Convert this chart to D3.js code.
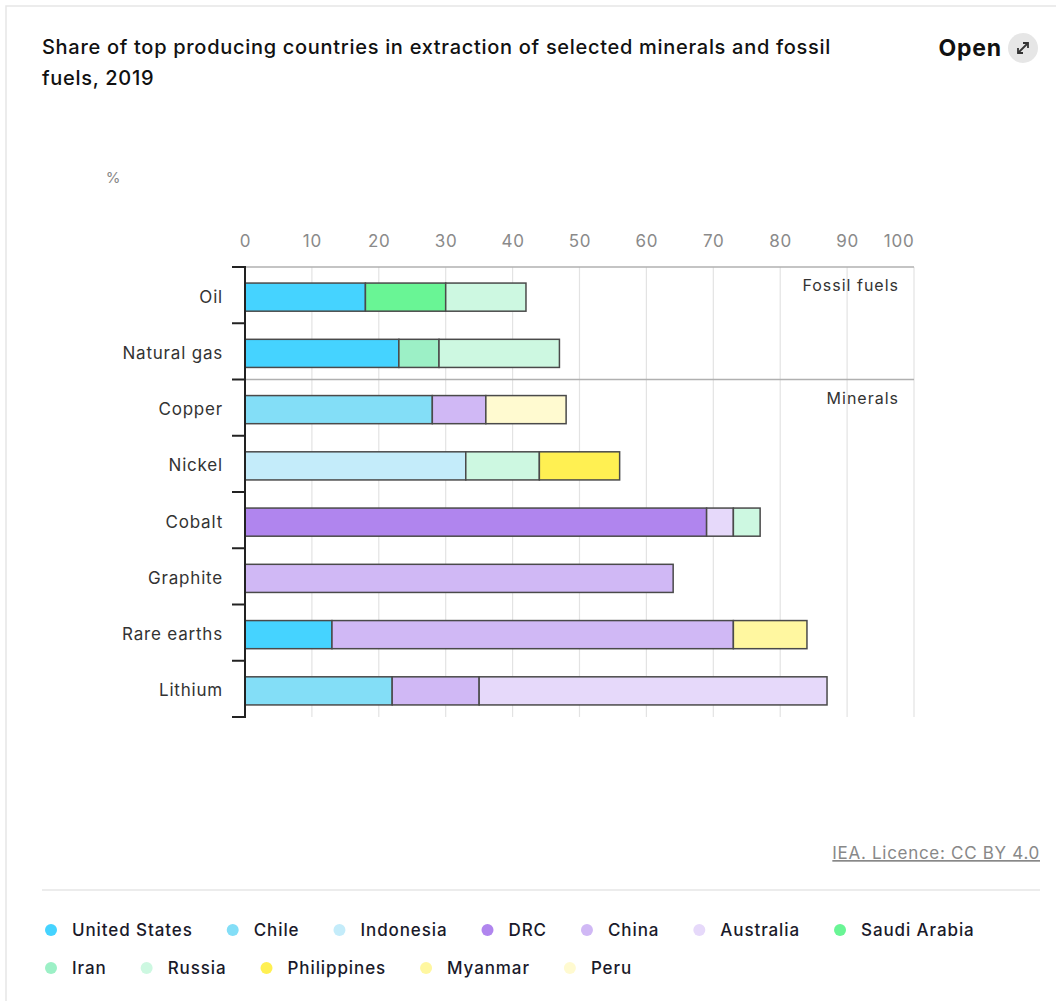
<!DOCTYPE html>
<html lang="en">
<head>
<meta charset="UTF-8">
<title>Share of top producing countries</title>
<script src="https://d3js.org/d3.v7.min.js"></script>
<style>
    body { margin: 0; background: #fff; }
    svg { display: block; font-family: Inter, "Noto Sans", sans-serif; }
</style>
</head>
<body>
<div id="canvas"></div>
<script>
    // chart data
    const categories = ['Oil', 'Natural gas', 'Copper', 'Nickel', 'Cobalt', 'Graphite', 'Rare earths', 'Lithium'];
    const countries = ['United States', 'Chile', 'Indonesia', 'DRC', 'China', 'Australia', 'Saudi Arabia',
                       'Iran', 'Russia', 'Philippines', 'Myanmar', 'Peru'];
    const colors = ['#45d3ff', '#83def7', '#c4ecfa', '#b085ee', '#d0b8f5', '#e6d9fa', '#69f595',
                    '#9cf0c6', '#cdf8e1', '#fff052', '#fff7a0', '#fffad0'];

    // values per country, in the same order as categories
    const unitedStates = [18, 23, 0, 0, 0, 0, 13, 0];
    const chile        = [0, 0, 28, 0, 0, 0, 0, 22];
    const indonesia    = [0, 0, 0, 33, 0, 0, 0, 0];
    const drc          = [0, 0, 0, 0, 69, 0, 0, 0];
    const china        = [0, 0, 8, 0, 0, 64, 60, 13];
    const australia    = [0, 0, 0, 0, 4, 0, 0, 52];
    const saudiArabia  = [12, 0, 0, 0, 0, 0, 0, 0];
    const iran         = [0, 6, 0, 0, 0, 0, 0, 0];
    const russia       = [12, 18, 0, 11, 4, 0, 0, 0];
    const philippines  = [0, 0, 0, 12, 0, 0, 0, 0];
    const myanmar      = [0, 0, 0, 0, 0, 0, 11, 0];
    const peru         = [0, 0, 12, 0, 0, 0, 0, 0];

    const seriesValues = [unitedStates, chile, indonesia, drc, china, australia, saudiArabia,
                          iran, russia, philippines, myanmar, peru];
    const xTicks = [0, 10, 20, 30, 40, 50, 60, 70, 80, 90, 100];
    const groups = [{ label: 'Fossil fuels', first: 'Oil' }, { label: 'Minerals', first: 'Copper' }];

    const table = categories.map((c, i) => {
        const row = { category: c };
        countries.forEach((k, j) => row[k] = seriesValues[j][i]);
        return row;
    });

    const W = 1056, H = 1001;
    const svg = d3.select('#canvas').append('svg').attr('width', W).attr('height', H);

    // card border
    svg.append('rect').attr('x', 6).attr('y', 6).attr('width', W + 10).attr('height', H + 10)
        .attr('fill', 'none').attr('stroke', '#e6e6e6').attr('stroke-width', 1.5);

    // title
    const title = svg.append('text').attr('x', 42).attr('y', 54)
        .attr('font-size', 20).attr('font-weight', 500).attr('letter-spacing', 0.7).attr('fill', '#111');
    title.append('tspan').attr('x', 42).text('Share of top producing countries in extraction of selected minerals and fossil');
    title.append('tspan').attr('x', 42).attr('dy', 31).text('fuels, 2019');

    // open button
    svg.append('text').attr('x', 1002).attr('y', 56).attr('text-anchor', 'end')
        .attr('font-size', 23).attr('font-weight', 700).attr('letter-spacing', 0.8).attr('fill', '#111').text('Open');
    svg.append('circle').attr('cx', 1023).attr('cy', 48).attr('r', 15).attr('fill', '#e6e6e6');
    const arrow = svg.append('g').attr('stroke', '#333').attr('stroke-width', 1.8).attr('fill', 'none');
    arrow.append('line').attr('x1', 1018).attr('y1', 53).attr('x2', 1028).attr('y2', 43);
    arrow.append('path').attr('d', 'M1023,43 L1028,43 L1028,48');
    arrow.append('path').attr('d', 'M1018,48 L1018,53 L1023,53');

    const x = d3.scaleLinear().domain([0, 100]).range([245, 914]);
    const y = d3.scaleBand().domain(categories).range([267, 717]).paddingInner(0.5).paddingOuter(0.25);
    const barShift = 2;

    // unit label
    svg.append('text').attr('x', 113).attr('y', 183).attr('text-anchor', 'middle')
        .attr('font-size', 15).attr('fill', '#888').text('%');

    // vertical gridlines
    svg.append('g').selectAll('line').data(xTicks).join('line')
        .attr('x1', d => x(d)).attr('x2', d => x(d))
        .attr('y1', 267).attr('y2', 717)
        .attr('stroke', '#e3e3e3').attr('stroke-width', 1.2);

    // top axis labels
    const xAxis = svg.append('g').attr('transform', 'translate(0,247)')
        .call(d3.axisTop(x).tickValues(xTicks).tickSize(0).tickPadding(0));
    xAxis.select('.domain').remove();
    xAxis.selectAll('text').attr('font-size', 17).attr('fill', '#8a8a8a').attr('letter-spacing', 0.8)
        .attr('font-family', 'Inter, "Noto Sans", sans-serif')
        .attr('text-anchor', d => d === 100 ? 'end' : 'middle');

    // group separators
    const step = y.step();
    const yTop = y.range()[0];
    groups.forEach(g => {
        const yy = yTop + categories.indexOf(g.first) * step;
        svg.append('line').attr('x1', x(0)).attr('x2', x(100)).attr('y1', yy).attr('y2', yy)
            .attr('stroke', '#b0b0b0').attr('stroke-width', 1.5);
        svg.append('text').attr('x', 899).attr('y', yy + 24).attr('text-anchor', 'end')
            .attr('font-size', 16).attr('letter-spacing', 1).attr('fill', '#333').text(g.label);
    });

    // stacked bars
    const stacked = d3.stack().keys(countries)(table);
    svg.append('g').selectAll('g').data(stacked).join('g')
        .attr('fill', (d, i) => colors[i])
        .selectAll('rect').data(d => d.filter(s => s[1] - s[0] > 0)).join('rect')
        .attr('x', d => x(d[0]))
        .attr('y', d => y(d.data.category) + barShift)
        .attr('width', d => x(d[1]) - x(d[0]))
        .attr('height', y.bandwidth())
        .attr('stroke', '#4a4a4a').attr('stroke-width', 1.5);

    // left axis with labels
    const yAxis = svg.append('g').attr('transform', 'translate(' + x(0) + ',' + barShift + ')')
        .call(d3.axisLeft(y).tickSize(0).tickPadding(22));
    yAxis.select('.domain').remove();
    yAxis.selectAll('text').attr('font-size', 17).attr('fill', '#333').attr('letter-spacing', 0.8)
        .attr('font-family', 'Inter, "Noto Sans", sans-serif');

    svg.append('line').attr('x1', x(0)).attr('x2', x(0)).attr('y1', 266).attr('y2', 718)
        .attr('stroke', '#222').attr('stroke-width', 2);
    svg.append('g').selectAll('line').data(d3.range(categories.length + 1)).join('line')
        .attr('x1', x(0) - 13).attr('x2', x(0))
        .attr('y1', i => yTop + i * step).attr('y2', i => yTop + i * step)
        .attr('stroke', '#222').attr('stroke-width', 2);

    // licence
    svg.append('text').attr('x', 1040).attr('y', 859).attr('text-anchor', 'end')
        .attr('font-size', 17).attr('fill', '#888').attr('letter-spacing', 0.7).attr('text-decoration', 'underline')
        .text('IEA. Licence: CC BY 4.0');

    svg.append('line').attr('x1', 42).attr('x2', 1040).attr('y1', 890).attr('y2', 890)
        .attr('stroke', '#e6e6e6').attr('stroke-width', 1.5);

    // legend
    const rows = [countries.slice(0, 7), countries.slice(7)];
    const rowY = [930, 968];
    rows.forEach((r, ri) => {
        let cx = 51;
        r.forEach(name => {
            const i = countries.indexOf(name);
            svg.append('circle').attr('cx', cx).attr('cy', rowY[ri]).attr('r', 6).attr('fill', colors[i]);
            const t = svg.append('text').attr('x', cx + 21).attr('y', rowY[ri] + 6)
                .attr('font-size', 17).attr('font-weight', 500).attr('letter-spacing', 0.9)
                .attr('fill', '#1a1a2a').text(name);
            cx = cx + 21 + t.node().getComputedTextLength() + 40;
        });
    });
</script>
</body>
</html>
